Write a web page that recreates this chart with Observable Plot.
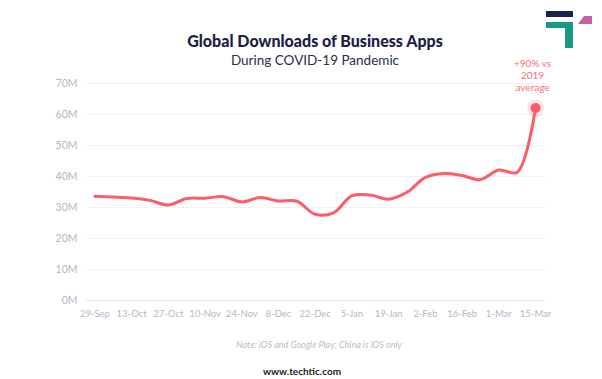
<!DOCTYPE html>
<html>
<head>
<meta charset="utf-8">
<script src="https://cdn.jsdelivr.net/npm/d3@7"></script>
<script src="https://cdn.jsdelivr.net/npm/@observablehq/plot@0.6"></script>
<style>
  html, body { margin: 0; padding: 0; background: #fff; }
  body { width: 602px; height: 379px; overflow: hidden; position: relative; font-family: Lato, "Noto Sans", sans-serif; }
  #chart { position: absolute; left: 0; top: 0; }
  .title { position: absolute; left: 0; width: 630px; text-align: center; top: 31px; font-size: 16px; line-height: 19px; font-weight: 900; color: #1d2142; }
  .subtitle { position: absolute; left: 0; width: 630px; text-align: center; top: 52px; font-size: 13.5px; line-height: 16px; font-weight: 400; color: #2a2e4a; }
  .note { position: absolute; left: 0; width: 638px; text-align: center; top: 339px; font-size: 9px; font-style: italic; color: #b9bccb; }
  .footer { position: absolute; left: 0; width: 604px; text-align: center; top: 365px; font-size: 10px; font-weight: 700; color: #222; }
  #logo { position: absolute; left: 544px; top: 8px; }
</style>
</head>
<body>
<div id="chart"></div>
<div class="title">Global Downloads of Business Apps</div>
<div class="subtitle">During COVID-19 Pandemic</div>
<div class="note">Note: iOS and Google Play; China is iOS only</div>
<div class="footer">www.techtic.com</div>
<svg id="logo" width="52" height="44" viewBox="0 0 52 44">
  <rect x="2" y="3" width="27" height="6" fill="#1e2150"/>
  <path d="M2 14 H29 V40 H21 V20 H2 Z" fill="#1a9a86"/>
  <path d="M40 8 H48 V16 H34 Z" fill="#c860a8"/>
</svg>
<script>
const weeks = ["2019-09-29","2019-10-06","2019-10-13","2019-10-20","2019-10-27","2019-11-03","2019-11-10","2019-11-17","2019-11-24","2019-12-01","2019-12-08","2019-12-15","2019-12-22","2019-12-29","2020-01-05","2020-01-12","2020-01-19","2020-01-26","2020-02-02","2020-02-09","2020-02-16","2020-02-23","2020-03-01","2020-03-08","2020-03-15"];
const downloadsM = [33.6,33.4,33.1,32.3,30.8,32.9,33.0,33.5,31.8,33.2,32.1,32.0,27.8,28.3,33.8,34.0,32.7,34.9,39.7,41.0,40.3,39.0,42.1,41.4,62.1];
const tickDates = ["2019-09-29","2019-10-13","2019-10-27","2019-11-10","2019-11-24","2019-12-08","2019-12-22","2020-01-05","2020-01-19","2020-02-02","2020-02-16","2020-03-01","2020-03-15"];
const yTicks = [0,10,20,30,40,50,60,70];
const annotation = "+90% vs\n2019\naverage";

const data = weeks.map((w, i) => ({date: new Date(w), value: downloadsM[i]}));
const last = data[data.length - 1];
const day = 864e5;
const x0 = new Date(new Date(weeks[0]).getTime() - 3.2 * day);
const x1 = new Date(new Date(weeks[weeks.length - 1]).getTime() + 3.8 * day);
const lineColor = "#fd5d6b";

const chart = Plot.plot({
  width: 602,
  height: 330,
  marginTop: 83,
  marginBottom: 30,
  marginLeft: 86,
  marginRight: 57,
  style: { fontFamily: "Lato, 'Noto Sans', sans-serif", fontSize: "10px", color: "#b4b7c7", background: "transparent" },
  x: { type: "utc", domain: [x0, x1], label: null },
  y: { domain: [0, 70], label: null },
  marks: [
    Plot.ruleY(yTicks.filter(d => d > 0), { stroke: "#f1f1f4", strokeWidth: 1 }),
    Plot.ruleY([0], { stroke: "#e6e6ea", strokeWidth: 1 }),
    Plot.axisY({ ticks: yTicks, tickFormat: d => d + "M", tickSize: 0, tickPadding: 9, fill: "#b4b7c7", fontSize: 10.5 }),
    Plot.axisX({ ticks: tickDates.map(d => new Date(d)), tickFormat: d3.utcFormat("%-d-%b"), tickSize: 0, tickPadding: 10, fill: "#b4b7c7", fontSize: 9.5 }),
    Plot.line(data, { x: "date", y: "value", curve: "catmull-rom", stroke: lineColor, strokeWidth: 3 }),
    Plot.dot([last], { x: "date", y: "value", r: 8.5, fill: lineColor, fillOpacity: 0.18 }),
    Plot.dot([last], { x: "date", y: "value", r: 5, fill: lineColor }),
    Plot.text([last], { x: "date", y: "value", text: () => annotation, lineAnchor: "bottom", dy: -17, dx: -3, fill: "#f7707c", fontSize: 10, lineHeight: 1.22 })
  ]
});
document.getElementById("chart").appendChild(chart);
</script>
</body>
</html>
